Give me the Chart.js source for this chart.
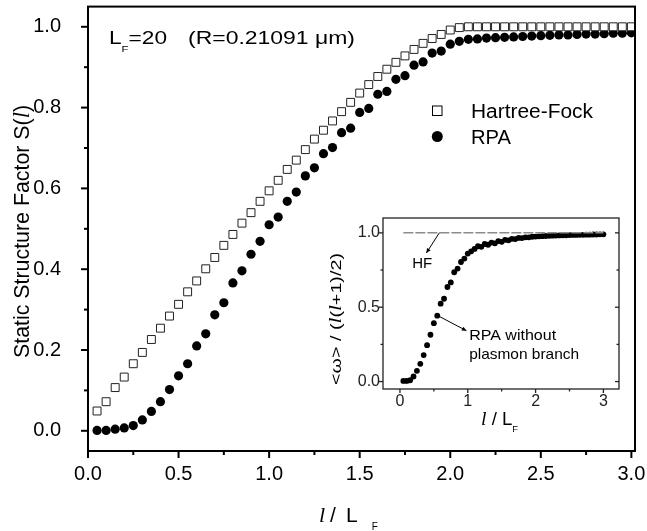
<!DOCTYPE html>
<html>
<head>
<meta charset="utf-8">
<script src="https://cdn.jsdelivr.net/npm/chart.js@4.4.1/dist/chart.umd.min.js"></script>
<style>
  html, body { margin: 0; padding: 0; background: #fff; }
  #wrap { position: relative; width: 647px; height: 531px; }
  #main { position: absolute; left: 0; top: 0; }
  #inset { position: absolute; left: 318px; top: 212px; }
</style>
</head>
<body>
<div id="wrap">
  <canvas id="main" width="647" height="531"></canvas>
  <canvas id="inset" width="310" height="222"></canvas>
</div>
<script>
const FONT = '"Liberation Sans", Arial, Helvetica, sans-serif';
const SERIF = '"Liberation Serif", "Times New Roman", serif';

// l / L_F  (L_F = 20, l = 1..60)
const lOverLF = [0.05, 0.10, 0.15, 0.20, 0.25, 0.30, 0.35, 0.40, 0.45, 0.50,
                 0.55, 0.60, 0.65, 0.70, 0.75, 0.80, 0.85, 0.90, 0.95, 1.00,
                 1.05, 1.10, 1.15, 1.20, 1.25, 1.30, 1.35, 1.40, 1.45, 1.50,
                 1.55, 1.60, 1.65, 1.70, 1.75, 1.80, 1.85, 1.90, 1.95, 2.00,
                 2.05, 2.10, 2.15, 2.20, 2.25, 2.30, 2.35, 2.40, 2.45, 2.50,
                 2.55, 2.60, 2.65, 2.70, 2.75, 2.80, 2.85, 2.90, 2.95, 3.00];

const hartreeFock = [0.049, 0.072, 0.107, 0.133, 0.166, 0.194, 0.226, 0.254, 0.284, 0.313,
                     0.344, 0.371, 0.401, 0.429, 0.459, 0.486, 0.514, 0.540, 0.568, 0.594,
                     0.620, 0.647, 0.670, 0.696, 0.722, 0.744, 0.767, 0.790, 0.813, 0.836,
                     0.857, 0.877, 0.895, 0.912, 0.928, 0.944, 0.959, 0.971, 0.981, 0.992,
                     0.998, 1.000, 1.000, 1.000, 1.000, 1.000, 1.000, 1.000, 1.000, 1.000,
                     1.000, 1.000, 1.000, 1.000, 1.000, 1.000, 1.000, 1.000, 1.000, 1.000];

const rpa = [0.001, 0.001, 0.004, 0.007, 0.013, 0.027, 0.048, 0.072, 0.102, 0.136,
             0.166, 0.210, 0.240, 0.287, 0.317, 0.366, 0.396, 0.437, 0.469, 0.510,
             0.529, 0.568, 0.591, 0.631, 0.651, 0.686, 0.701, 0.738, 0.749, 0.788,
             0.798, 0.833, 0.840, 0.870, 0.879, 0.905, 0.913, 0.935, 0.940, 0.957,
             0.964, 0.969, 0.970, 0.972, 0.973, 0.974, 0.975, 0.976, 0.977, 0.978,
             0.979, 0.980, 0.980, 0.981, 0.982, 0.982, 0.983, 0.984, 0.984, 0.985];

// inset: <w> / (l(l+1)/2)
const insetRpaNoPlasmon = [0.004, 0.004, 0.009, 0.034, 0.072, 0.119, 0.178, 0.245, 0.315, 0.393,
                           0.443, 0.524, 0.557, 0.636, 0.667, 0.735, 0.760, 0.804, 0.827, 0.861,
                           0.876, 0.892, 0.910, 0.906, 0.925, 0.920, 0.935, 0.930, 0.945, 0.940,
                           0.953, 0.950, 0.960, 0.958, 0.966, 0.965, 0.970, 0.970, 0.974, 0.975,
                           0.977, 0.978, 0.979, 0.980, 0.981, 0.982, 0.983, 0.984, 0.984, 0.985,
                           0.986, 0.986, 0.987, 0.987, 0.988, 0.988, 0.989, 0.989, 0.990, 0.990];
const insetHF = [1, 1, 1, 1, 1, 1, 1, 1, 1, 1, 1, 1, 1, 1, 1, 1, 1, 1, 1, 1,
                 1, 1, 1, 1, 1, 1, 1, 1, 1, 1, 1, 1, 1, 1, 1, 1, 1, 1, 1, 1,
                 1, 1, 1, 1, 1, 1, 1, 1, 1, 1, 1, 1, 1, 1, 1, 1, 1, 1, 1, 1];

const mainXMajor = [0, 0.5, 1.0, 1.5, 2.0, 2.5, 3.0];
const mainXMinor = [0.25, 0.75, 1.25, 1.75, 2.25, 2.75];
const mainYMajor = [0, 0.2, 0.4, 0.6, 0.8, 1.0];
const mainYMinor = [0.1, 0.3, 0.5, 0.7, 0.9];
const insetXMajor = [0, 1, 2, 3];
const insetXMinor = [0.5, 1.5, 2.5];
const insetYMajor = [0, 0.5, 1.0];
const insetYMinor = [0.25, 0.75];

function toPoints(xs, ys) {
    return xs.map((x, i) => ({x: x, y: ys[i]}));
}

function fontOf(p) {
    return (p.italic ? 'italic ' : '') + p.s + 'px ' + (p.italic ? SERIF : FONT);
}

// draws a run of text pieces (subscripts via dy, extra gaps via dx), optionally squeezed to a width
function drawText(ctx, parts, x, y, o) {
    o = o || {};
    ctx.save();
    ctx.translate(x, y);
    if (o.rotate) ctx.rotate(o.rotate);
    let total = 0;
    const ws = parts.map(p => {
        ctx.font = fontOf(p);
        const w = ctx.measureText(p.t).width;
        total += w + (p.dx || 0);
        return w;
    });
    if (o.width) ctx.scale(o.width / total, 1);
    let cx = o.align === 'center' ? -total / 2 : 0;
    ctx.fillStyle = o.color || '#000';
    ctx.textBaseline = 'alphabetic';
    ctx.textAlign = 'left';
    parts.forEach((p, i) => {
        ctx.font = fontOf(p);
        cx += p.dx || 0;
        ctx.fillText(p.t, cx, p.dy || 0);
        cx += ws[i];
    });
    ctx.restore();
}

function arrow(ctx, x1, y1, x2, y2) {
    const ang = Math.atan2(y2 - y1, x2 - x1), h = 5;
    ctx.beginPath();
    ctx.moveTo(x1, y1);
    ctx.lineTo(x2, y2);
    ctx.stroke();
    ctx.beginPath();
    ctx.moveTo(x2, y2);
    ctx.lineTo(x2 - h * Math.cos(ang - 0.45), y2 - h * Math.sin(ang - 0.45));
    ctx.lineTo(x2 - h * Math.cos(ang + 0.45), y2 - h * Math.sin(ang + 0.45));
    ctx.closePath();
    ctx.fill();
}

function tick(ctx, x1, y1, x2, y2) {
    ctx.beginPath();
    ctx.moveTo(x1, y1);
    ctx.lineTo(x2, y2);
    ctx.stroke();
}

function noPad(scale) {
    scale.paddingTop = 0;
    scale.paddingBottom = 0;
    scale.paddingLeft = 0;
    scale.paddingRight = 0;
}

const whiteBg = {
    id: 'whiteBg',
    beforeDraw(chart) {
        const ctx = chart.ctx;
        ctx.save();
        ctx.fillStyle = '#fff';
        ctx.fillRect(0, 0, chart.width, chart.height);
        ctx.restore();
    }
};

const mainDecor = {
    id: 'mainDecor',
    afterDraw(chart) {
        const ctx = chart.ctx, a = chart.chartArea;
        const x = chart.scales.x, y = chart.scales.y;
        ctx.save();
        ctx.strokeStyle = '#000';
        ctx.lineWidth = 2;
        ctx.strokeRect(a.left, a.top, a.right - a.left, a.bottom - a.top);
        mainXMajor.forEach(v => tick(ctx, x.getPixelForValue(v), a.bottom, x.getPixelForValue(v), a.bottom + 7));
        mainXMinor.forEach(v => tick(ctx, x.getPixelForValue(v), a.bottom, x.getPixelForValue(v), a.bottom + 4));
        mainYMajor.forEach(v => tick(ctx, a.left, y.getPixelForValue(v), a.left - 7, y.getPixelForValue(v)));
        mainYMinor.forEach(v => tick(ctx, a.left, y.getPixelForValue(v), a.left - 4, y.getPixelForValue(v)));

        // legend
        ctx.lineWidth = 1;
        ctx.fillStyle = '#fff';
        ctx.fillRect(432.5, 106, 9.5, 9.5);
        ctx.strokeRect(432.5, 106, 9.5, 9.5);
        ctx.fillStyle = '#000';
        ctx.beginPath();
        ctx.arc(437.3, 136.5, 5.5, 0, Math.PI * 2);
        ctx.fill();
        drawText(ctx, [{t: 'Hartree-Fock', s: 20}], 471, 117.5, {width: 122});
        drawText(ctx, [{t: 'RPA', s: 20}], 471, 143.5, {width: 40});

        // annotation
        drawText(ctx, [{t: 'L', s: 18}, {t: 'F', s: 9, dy: 8}, {t: '=20', s: 18}], 109, 44, {width: 58});
        drawText(ctx, [{t: '(R=0.21091 \u03bcm)', s: 18}], 188, 44, {width: 167});

        // axis titles
        drawText(ctx, [{t: 'Static Structure Factor S(', s: 22}, {t: 'l', s: 23, italic: true}, {t: ')', s: 22}],
                 29, 231.5, {rotate: -Math.PI / 2, align: 'center', width: 253});
        drawText(ctx, [{t: 'l', s: 22, italic: true}, {t: '/', s: 21, dx: 5}, {t: 'L', s: 21, dx: 10},
                       {t: 'F', s: 10, dy: 8, dx: 14}], 319, 522);
        ctx.restore();
    }
};

const insetDecor = {
    id: 'insetDecor',
    afterDraw(chart) {
        const ctx = chart.ctx, a = chart.chartArea;
        const x = chart.scales.x, y = chart.scales.y;
        ctx.save();
        ctx.strokeStyle = '#222';
        ctx.lineWidth = 1.3;
        ctx.strokeRect(a.left, a.top, a.right - a.left, a.bottom - a.top);
        insetXMajor.forEach(v => tick(ctx, x.getPixelForValue(v), a.bottom, x.getPixelForValue(v), a.bottom + 4));
        insetXMinor.forEach(v => tick(ctx, x.getPixelForValue(v), a.bottom, x.getPixelForValue(v), a.bottom + 2.5));
        insetYMajor.forEach(v => {
            tick(ctx, a.left, y.getPixelForValue(v), a.left - 4, y.getPixelForValue(v));
            tick(ctx, a.right, y.getPixelForValue(v), a.right - 4, y.getPixelForValue(v));
        });
        insetYMinor.forEach(v => {
            tick(ctx, a.left, y.getPixelForValue(v), a.left - 2.5, y.getPixelForValue(v));
            tick(ctx, a.right, y.getPixelForValue(v), a.right - 2.5, y.getPixelForValue(v));
        });

        // annotations with arrows
        ctx.strokeStyle = '#000';
        ctx.fillStyle = '#000';
        ctx.lineWidth = 1;
        arrow(ctx, x.getPixelForValue(0.58), y.getPixelForValue(1.0), x.getPixelForValue(0.39), y.getPixelForValue(0.865));
        arrow(ctx, x.getPixelForValue(0.58), y.getPixelForValue(0.438), x.getPixelForValue(0.98), y.getPixelForValue(0.342));
        drawText(ctx, [{t: 'HF', s: 15}], x.getPixelForValue(0.18), y.getPixelForValue(0.764), {width: 20});
        drawText(ctx, [{t: 'RPA without', s: 15}], x.getPixelForValue(1.02), y.getPixelForValue(0.28), {width: 87});
        drawText(ctx, [{t: 'plasmon branch', s: 15}], x.getPixelForValue(1.02), y.getPixelForValue(0.153), {width: 110});

        // axis titles
        drawText(ctx, [{t: 'l', s: 19, italic: true}, {t: ' / L', s: 18}, {t: 'F', s: 9, dy: 7}],
                 163, 213, {width: 37});
        drawText(ctx, [{t: '<\u03c9> / (', s: 15}, {t: 'l', s: 16, italic: true}, {t: '(', s: 15},
                       {t: 'l', s: 16, italic: true}, {t: '+1)/2)', s: 15}],
                 23, 107, {rotate: -Math.PI / 2, align: 'center', width: 132});
        ctx.restore();
    }
};

new Chart(document.getElementById('main'), {
    type: 'scatter',
    data: {
        datasets: [{
            label: 'Hartree-Fock',
            data: toPoints(lOverLF, hartreeFock),
            pointStyle: 'rect',
            pointRadius: 5.6,
            backgroundColor: '#fff',
            borderColor: '#222',
            borderWidth: 1
        }, {
            label: 'RPA',
            data: toPoints(lOverLF, rpa),
            pointStyle: 'circle',
            pointRadius: 4.6,
            backgroundColor: '#000',
            borderColor: '#000',
            borderWidth: 0
        }]
    },
    options: {
        responsive: false,
        animation: false,
        devicePixelRatio: 1,
        layout: {padding: {top: 4, right: 12, left: 0, bottom: 0}},
        plugins: {legend: {display: false}, tooltip: {enabled: false}},
        scales: {
            x: {
                type: 'linear', min: 0, max: 3.02,
                grid: {display: false, drawTicks: false},
                border: {display: false},
                ticks: {
                    stepSize: 0.5, includeBounds: false, autoSkip: false, maxRotation: 0,
                    padding: 11, color: '#000', font: {family: FONT, size: 20},
                    callback: v => v.toFixed(1)
                },
                afterFit: s => { s.height = 80; noPad(s); }
            },
            y: {
                type: 'linear', min: -0.05, max: 1.05,
                grid: {display: false, drawTicks: false},
                border: {display: false},
                ticks: {
                    stepSize: 0.2, includeBounds: false, autoSkip: false,
                    padding: 27, color: '#000', font: {family: FONT, size: 20},
                    callback: v => v.toFixed(1)
                },
                afterFit: s => { s.width = 88; noPad(s); }
            }
        }
    },
    plugins: [whiteBg, mainDecor]
});

new Chart(document.getElementById('inset'), {
    type: 'scatter',
    data: {
        datasets: [{
            label: 'HF',
            data: toPoints(lOverLF, insetHF),
            showLine: true,
            pointRadius: 0,
            borderColor: '#8c8c8c',
            borderWidth: 1.5,
            borderDash: [10, 2]
        }, {
            label: 'RPA without plasmon branch',
            data: toPoints(lOverLF, insetRpaNoPlasmon),
            pointStyle: 'circle',
            pointRadius: 2.9,
            backgroundColor: '#000',
            borderWidth: 0
        }]
    },
    options: {
        responsive: false,
        animation: false,
        devicePixelRatio: 1,
        layout: {padding: {top: 6, right: 9, left: 0, bottom: 0}},
        plugins: {legend: {display: false}, tooltip: {enabled: false}},
        scales: {
            x: {
                type: 'linear', min: -0.25, max: 3.23,
                grid: {display: false, drawTicks: false},
                border: {display: false},
                ticks: {
                    stepSize: 1, includeBounds: false, autoSkip: false, maxRotation: 0,
                    padding: 3, color: '#222', font: {family: FONT, size: 16},
                    callback: v => String(v)
                },
                afterFit: s => { s.height = 45; noPad(s); }
            },
            y: {
                type: 'linear', min: -0.05, max: 1.10,
                grid: {display: false, drawTicks: false},
                border: {display: false},
                ticks: {
                    stepSize: 0.5, includeBounds: false, autoSkip: false,
                    padding: 3, color: '#222', font: {family: FONT, size: 16},
                    callback: v => v.toFixed(1)
                },
                afterFit: s => { s.width = 65; noPad(s); }
            }
        }
    },
    plugins: [insetDecor]
});
</script>
</body>
</html>
